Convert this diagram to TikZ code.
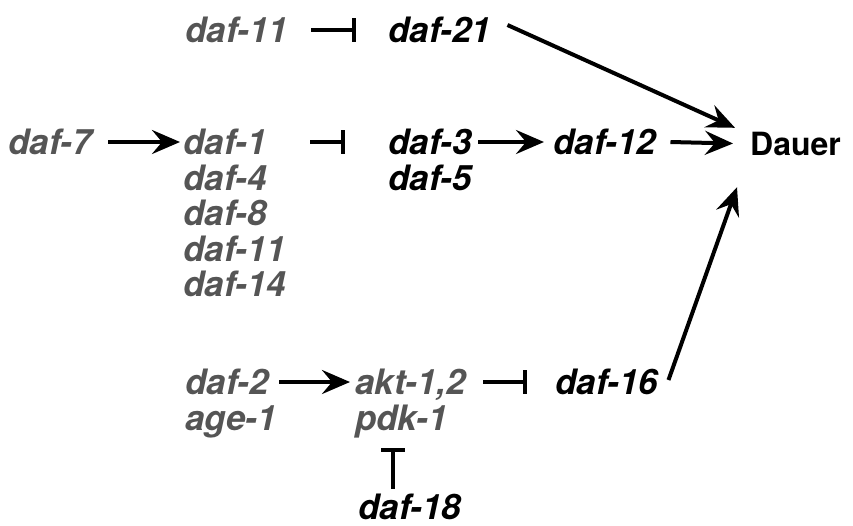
\documentclass[tikz,border=0pt]{standalone}
\usepackage{fontspec}
\setmainfont{TeX Gyre Heros}
\usetikzlibrary{arrows.meta}
\definecolor{gtxt}{HTML}{555555}
\tikzset{
  lbl/.style={inner sep=0pt, anchor=base west, text height=25pt, text depth=0pt,
    font=\fontsize{35}{35}\selectfont\bfseries\itshape},
  gene/.style={lbl, text=gtxt},
  bgene/.style={lbl, text=black},
  outc/.style={inner sep=0pt, anchor=base west, text height=23pt, text depth=0pt,
    font=\fontsize{32}{32}\selectfont\bfseries},
  act/.style={line width=4pt, -{Stealth[length=28pt,width=24pt,inset=10pt]}},
  inh/.style={line width=3.5pt, -{Bar[width=24pt,line width=4pt]}},
}
\begin{document}
\begin{tikzpicture}[x=1pt,y=-1pt]
\useasboundingbox (0,0) rectangle (853,525);
% top row
\node[gene]  (t11) at (185,42.5) {daf-11};
\node[bgene] (d21) at (388,42.5) {daf-21};
% middle row
\node[gene]  (d7)  at (8,154.5) {daf-7};
\node[gene]  (d1)  at (183,154.5) {daf-1};
\node[gene]  (d4)  at (183,190) {daf-4};
\node[gene]  (d8)  at (183,225.5) {daf-8};
\node[gene]  (d11) at (183,261) {daf-11};
\node[gene]  (d14) at (183,296.5) {daf-14};
\node[bgene] (d3)  at (388,154.5) {daf-3};
\node[bgene] (d5)  at (388,190) {daf-5};
\node[bgene] (d12) at (553,154.5) {daf-12};
\node[outc]  (dauer) at (750,155) {Dauer};
% bottom
\node[gene]  (d2)  at (185,394.5) {daf-2};
\node[gene]  (age) at (185,430) {age-1};
\node[gene]  (akt) at (355,394.5) {akt-1,2};
\node[gene]  (pdk) at (355,430) {pdk-1};
\node[bgene] (d16) at (555,394.5) {daf-16};
\node[bgene] (d18) at (358,519) {daf-18};
% connectors
\draw[inh] ([xshift=23]t11.east) -- ([xshift=-32]d21.west);
\draw[act] ([shift={(16,-5)}]d21.east) -- ([shift={(-15,-4)}]dauer.north west);
\draw[act] ([xshift=16]d7.east) -- ([xshift=-3]d1.west);
\draw[inh] ([xshift=43]d1.east) -- ([xshift=-43]d3.west);
\draw[act] ([xshift=6]d3.east) -- ([xshift=-9]d12.west);
\draw[act] ([xshift=14]d12.east) -- ([xshift=-17]dauer.west);
\draw[act] ([xshift=10]d2.east) -- ([xshift=-5]akt.west);
\draw[inh] ([xshift=17]akt.east) -- ([xshift=-28]d16.west);
\draw[act] ([shift={(10,-2)}]d16.east) -- ([shift={(-13,32)}]dauer.south west);
\draw[inh] ([shift={(35,-5)}]d18.north west) -- ([shift={(38,18)}]pdk.south west);
\end{tikzpicture}
\end{document}
